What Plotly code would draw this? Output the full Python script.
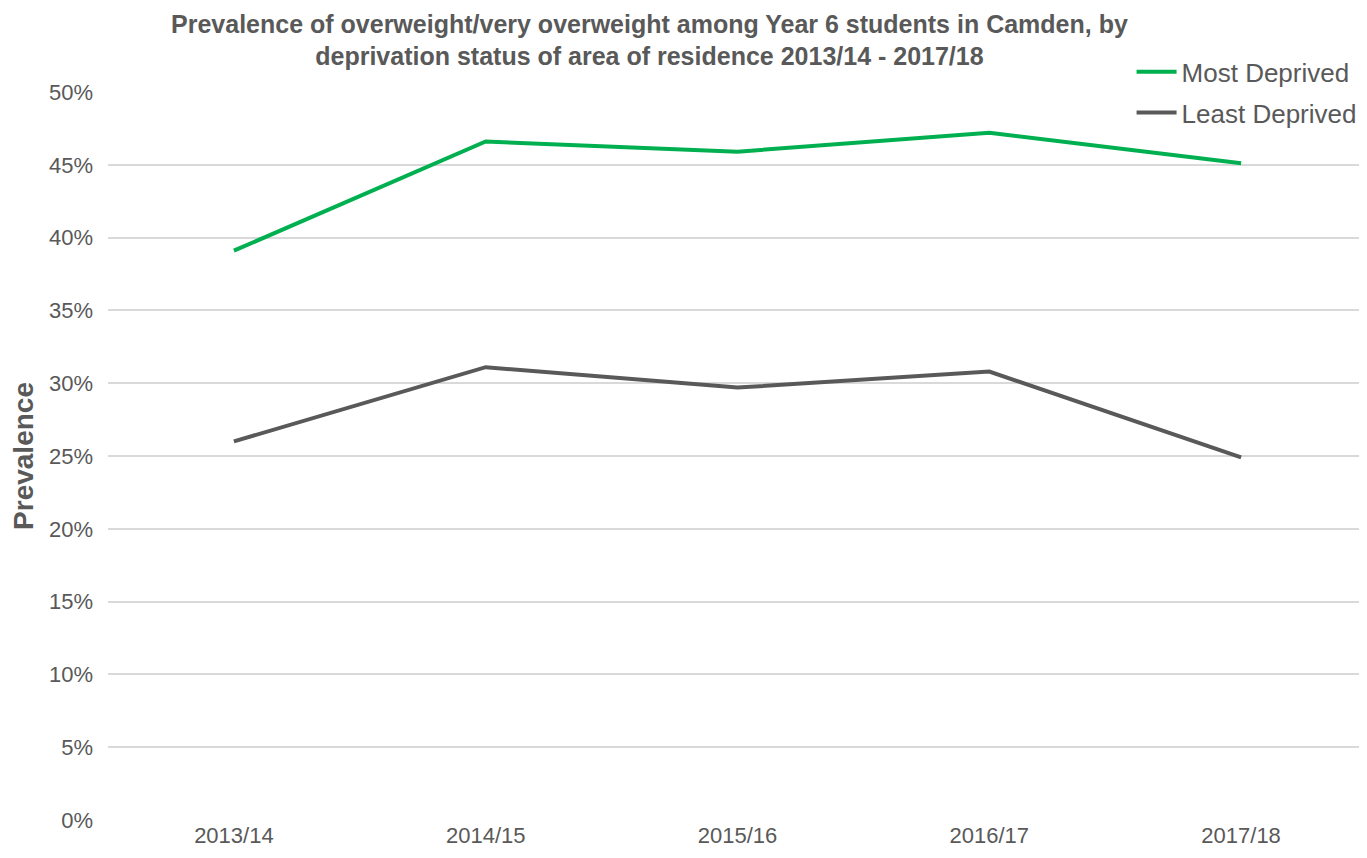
import plotly.graph_objects as go

years = ["2013/14", "2014/15", "2015/16", "2016/17", "2017/18"]
most_deprived = [39.1, 46.6, 45.9, 47.2, 45.1]
least_deprived = [26.0, 31.1, 29.7, 30.8, 24.9]
y_ticks = [0, 5, 10, 15, 20, 25, 30, 35, 40, 45, 50]
y_tick_labels = [f"{v}%" for v in y_ticks]

fig = go.Figure()
fig.add_trace(go.Scatter(x=years, y=most_deprived, mode="lines", name="Most Deprived",
                         line=dict(color="#00B050", width=4), legendgroup="a"))
fig.add_trace(go.Scatter(x=years, y=least_deprived, mode="lines", name="Least Deprived",
                         line=dict(color="#595959", width=4), legendgroup="b"))

fig.update_layout(
    width=1359, height=850,
    paper_bgcolor="white", plot_bgcolor="white",
    margin=dict(l=100, r=0, t=84, b=38),
    title=dict(
        text="Prevalence of overweight/very overweight among Year 6 students in Camden, by<br>deprivation status of area of residence 2013/14 - 2017/18",
        x=0.472, xanchor="center", y=0.971, yanchor="middle", yref="container",
        font=dict(family="Liberation Sans, Arial, sans-serif", size=25, color="#595959", weight="bold"),
    ),
    font=dict(family="Liberation Sans, Arial, sans-serif", color="#595959"),
    showlegend=True,
    legend=dict(x=0.813, xanchor="left", y=1.06, yanchor="top", bgcolor="white",
                font=dict(size=26, color="#595959"), traceorder="grouped", tracegroupgap=4,
                itemwidth=40, borderwidth=0),
    xaxis=dict(type="category", showgrid=False, showline=False, ticks="",
               tickfont=dict(size=22, color="#595959"), range=[-0.5, 4.5]),
    yaxis=dict(range=[0, 50], tickvals=y_ticks, ticktext=y_tick_labels,
               showgrid=True, gridcolor="#D9D9D9", gridwidth=1.5, zeroline=False,
               showline=False, ticks="", ticklabelstandoff=14,
               tickfont=dict(size=22, color="#595959"),
               title=dict(text="<b>Prevalence</b>", font=dict(size=28, color="#595959"), standoff=10)),
)

fig.write_html("out.html")
